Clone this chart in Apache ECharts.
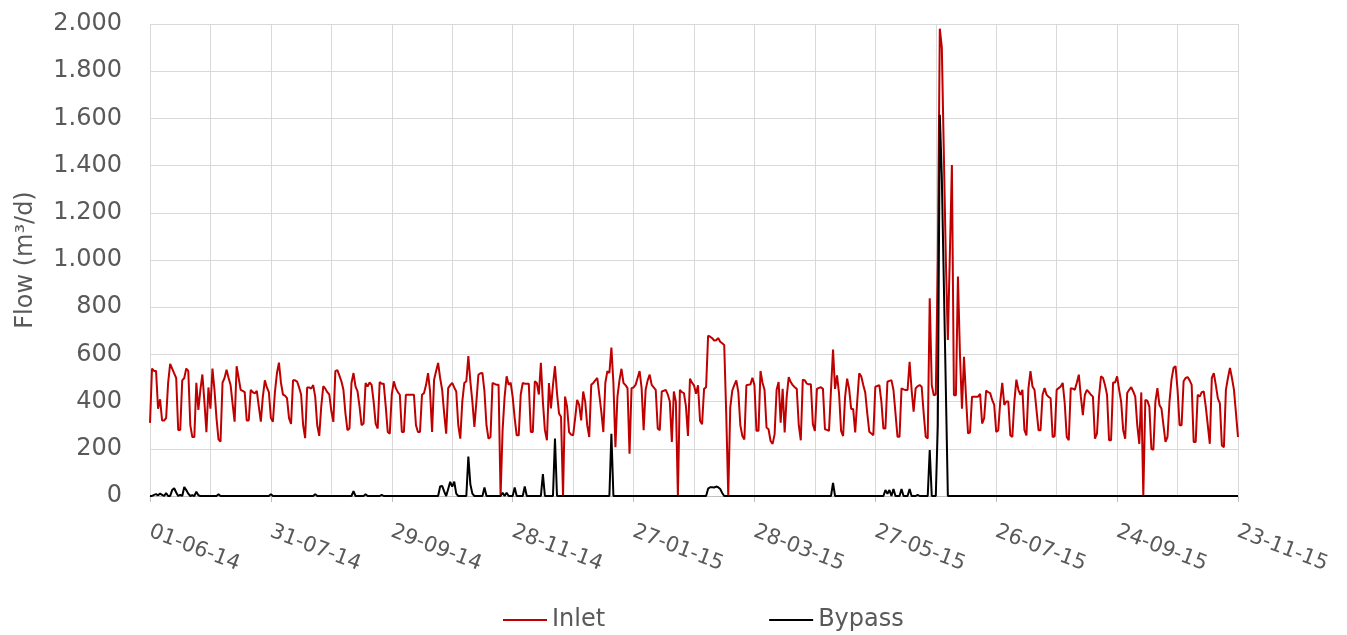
<!DOCTYPE html>
<html>
<head>
<meta charset="utf-8">
<script src="https://cdn.jsdelivr.net/npm/echarts@6/dist/echarts.min.js"></script>
<style>
html,body{margin:0;padding:0;background:#fff;}
#chart{width:1347px;height:635px;}
</style>
</head>
<body>
<div id="chart"></div>
<script>
// Daily series from 01-06-14 (index 0) to 23-11-15 (index 540)
const startDate = [2014, 5, 1];
const dayCount = 541;
const yTicks = [0, 200, 400, 600, 800, 1000, 1200, 1400, 1600, 1800, 2000];
const seriesNames = ['Inlet', 'Bypass'];

const inlet = [
310,540,530,530,370,410,320,320,330,480,
560,540,520,500,280,280,490,500,540,530,
300,250,250,480,365,450,515,400,270,460,
370,540,450,330,240,230,480,500,535,500,
470,390,315,550,500,450,445,440,320,320,
450,440,435,445,380,315,420,490,460,440,
330,315,440,520,565,480,430,425,415,330,
305,490,490,485,460,430,300,245,460,460,
455,470,420,300,255,380,465,455,440,430,
360,314,529,533,510,486,450,350,279,286,
479,521,464,443,380,300,307,479,464,481,
471,400,307,286,483,476,476,380,271,264,
430,486,457,440,429,271,271,429,429,429,
429,429,300,271,271,429,436,470,521,443,
271,493,530,564,500,450,350,264,457,470,
479,460,443,300,243,400,479,486,593,486,
400,293,400,514,520,521,443,300,243,250,
479,475,471,471,0,279,420,507,471,480,
420,330,257,257,430,479,476,476,476,271,
271,486,479,430,564,400,279,236,479,371,
470,550,436,350,336,0,421,379,271,260,
257,329,407,386,320,443,400,300,250,471,
479,490,500,430,357,271,480,529,521,629,
479,207,421,490,539,479,470,457,179,457,
460,471,500,529,457,279,450,490,514,471,
460,450,286,279,443,446,450,430,400,229,
443,400,0,450,440,436,380,254,497,480,
469,433,469,319,304,454,461,679,675,669,
659,660,669,654,647,640,347,0,376,447,
470,490,440,300,254,240,469,471,473,501,
469,276,276,530,480,450,290,283,233,221,
261,450,483,311,454,269,420,504,483,470,
461,454,300,236,493,490,476,473,473,304,
276,454,458,461,454,283,280,276,450,621,
454,511,433,276,254,420,497,454,369,369,
269,400,520,507,470,438,350,272,265,258,
463,466,470,400,286,286,484,488,491,449,
350,251,251,456,452,449,449,569,450,357,
456,465,470,463,350,251,244,838,470,427,
430,1000,1980,1900,1450,1000,661,1030,1402,427,
427,930,600,370,590,420,265,270,421,421,
421,421,433,307,329,447,440,436,407,386,
271,279,400,479,386,400,400,257,250,400,
493,450,429,450,279,257,457,529,464,450,
364,279,279,429,457,429,420,414,250,253,
450,457,464,479,393,250,236,457,455,450,
480,514,421,343,429,450,440,429,421,243,
264,420,507,500,470,429,236,236,481,481,
507,450,400,280,243,436,450,461,443,421,
300,221,439,0,407,404,379,200,196,400,
457,386,371,300,229,250,400,493,543,550,
450,300,300,486,500,504,490,471,229,229,
429,421,440,443,379,300,221,500,521,470,
414,393,214,207,450,500,543,500,450,350,
250
];

const bypass = [
0,0,5,8,3,10,5,0,12,0, 0,25,33,15,0,5,0,38,25,10, 0,3,0,18,3,0,0,0,0,0,
0,0,0,0,7,0,0,0,0,0, 0,0,0,0,0,0,0,0,0,0, 0,0,0,0,0,0,0,0,0,0,
8,0,0,0,0,0,0,0,0,0, 0,0,0,0,0,0,0,0,0,0, 0,0,8,0,0,0,0,0,0,0,
0,0,0,0,0,0,0,0,0,0, 0,21,0,0,0,0,0,7,0,0, 0,0,0,0,0,5,0,0,0,0,
0,0,0,0,0,0,0,0,0,0, 0,0,0,0,0,0,0,0,0,0, 0,0,0,0,40,43,20,0,30,60,
40,61,10,0,0,0,0,0,167,50, 10,0,0,0,0,0,36,0,0,0, 0,0,0,0,0,14,0,14,0,0,
0,36,0,0,0,0,40,0,0,0, 0,0,0,0,0,93,0,0,0,0, 0,243,0,0,0,0,0,0,0,0,
0,0,0,0,0,0,0,0,0,0, 0,0,0,0,0,0,0,0,0,264, 0,0,0,0,0,0,0,0,0,0,
0,0,0,0,0,0,0,0,0,0, 0,0,0,0,0,0,0,0,0,0, 0,0,0,0,0,0,0,0,0,0,
0,0,0,0,0,0,0,31,37,37, 36,40,37,30,13,0,0,0,0,0, 0,0,0,0,0,0,0,0,0,0,
0,0,0,0,0,0,0,0,0,0, 0,0,0,0,0,0,0,0,0,0, 0,0,0,0,0,0,0,0,0,0,
0,0,0,0,0,0,0,0,0,56, 0,0,0,0,0,0,0,0,0,0, 0,0,0,0,0,0,0,0,0,0,
0,0,0,0,0,25,10,25,0,30, 0,0,0,30,0,0,0,30,0,0, 0,5,0,0,0,0,0,195,0,0,
0,300,1615,1350,900,450,0,0,0,0, 0,0,0,0,0,0,0,0,0,0, 0,0,0,0,0,0,0,0,0,0,
0,0,0,0,0,0,0,0,0,0, 0,0,0,0,0,0,0,0,0,0, 0,0,0,0,0,0,0,0,0,0,
0,0,0,0,0,0,0,0,0,0, 0,0,0,0,0,0,0,0,0,0, 0,0,0,0,0,0,0,0,0,0,
0,0,0,0,0,0,0,0,0,0, 0,0,0,0,0,0,0,0,0,0, 0,0,0,0,0,0,0,0,0,0,
0,0,0,0,0,0,0,0,0,0, 0,0,0,0,0,0,0,0,0,0, 0,0,0,0,0,0,0,0,0,0,
0
];

function pad(n){ return (n < 10 ? '0' : '') + n; }
const categories = [];
for (let i = 0; i < dayCount; i++) {
  const d = new Date(Date.UTC(startDate[0], startDate[1], startDate[2] + i));
  categories.push(pad(d.getUTCDate()) + '-' + pad(d.getUTCMonth() + 1) + '-' + pad(d.getUTCFullYear() % 100));
}

function fmtThousands(v){
  const s = String(Math.round(v));
  return s.replace(/\B(?=(\d{3})+(?!\d))/g, '.');
}

const FONT = 'DejaVu Sans';
const chart = echarts.init(document.getElementById('chart'), null, {renderer: 'canvas'});
chart.setOption({
  animation: false,
  backgroundColor: '#ffffff',
  textStyle: {fontFamily: FONT},
  grid: {left: 150, right: 109, top: 24, bottom: 139, containLabel: false},
  legend: {
    data: seriesNames,
    left: 498, top: 603,
    itemWidth: 44, itemHeight: 26, itemGap: 164,
    icon: 'path://M0,12 L44,12 L44,14 L0,14 Z',
    textStyle: {fontSize: 24, color: '#595959', fontFamily: FONT}
  },
  xAxis: {
    type: 'category',
    data: categories,
    boundaryGap: false,
    axisLine: {show: true, lineStyle: {color: '#bfbfbf', width: 1}},
    axisTick: {show: true, interval: 59, length: 6, lineStyle: {color: '#bfbfbf'}},
    axisLabel: {interval: 59, rotate: -21, margin: 35, fontSize: 21, color: '#595959', fontFamily: FONT},
    splitLine: {show: true, interval: 29, lineStyle: {color: '#d9d9d9', width: 1}}
  },
  yAxis: {
    type: 'value',
    min: yTicks[0], max: yTicks[yTicks.length - 1], interval: yTicks[1] - yTicks[0],
    name: 'Flow (m³/d)',
    nameLocation: 'middle',
    nameGap: 112,
    nameTextStyle: {fontSize: 24, color: '#595959', fontFamily: FONT},
    axisLine: {show: false},
    axisTick: {show: false},
    axisLabel: {margin: 28, fontSize: 24, color: '#595959', fontFamily: FONT, formatter: fmtThousands},
    splitLine: {show: true, lineStyle: {color: '#d9d9d9', width: 1}}
  },
  series: [
    {name: seriesNames[0], type: 'line', data: inlet, symbol: 'none', smooth: false,
     lineStyle: {color: '#c00000', width: 2}, itemStyle: {color: '#c00000'}},
    {name: seriesNames[1], type: 'line', data: bypass, symbol: 'none', smooth: false,
     lineStyle: {color: '#000000', width: 2}, itemStyle: {color: '#000000'}}
  ]
});
</script>
</body>
</html>
